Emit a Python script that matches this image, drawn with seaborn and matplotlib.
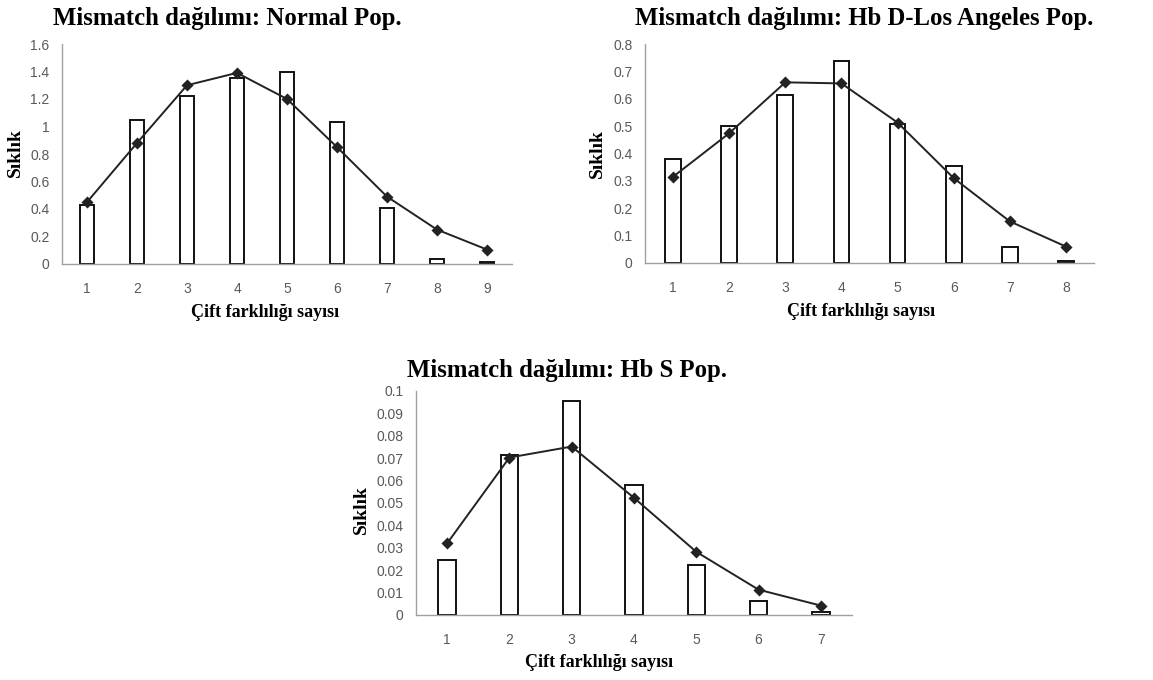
import matplotlib

matplotlib.use("Agg")

import matplotlib.pyplot as plt
import pandas as pd
import seaborn as sns
from matplotlib.ticker import FuncFormatter, MultipleLocator

# Normal population
normal_x = ["1", "2", "3", "4", "5", "6", "7", "8", "9"]
normal_obs = [0.43, 1.05, 1.22, 1.35, 1.40, 1.03, 0.41, 0.035, 0.012]
normal_exp = [0.45, 0.88, 1.30, 1.39, 1.20, 0.85, 0.49, 0.25, 0.105]

# Hb D-Los Angeles population
hbd_x = ["1", "2", "3", "4", "5", "6", "7", "8"]
hbd_obs = [0.38, 0.50, 0.614, 0.739, 0.506, 0.355, 0.057, 0.008]
hbd_exp = [0.315, 0.474, 0.66, 0.656, 0.513, 0.31, 0.152, 0.06]

# Hb S population
hbs_x = ["1", "2", "3", "4", "5", "6", "7"]
hbs_obs = [0.0244, 0.0714, 0.0955, 0.0581, 0.0224, 0.0062, 0.0012]
hbs_exp = [0.032, 0.0703, 0.0752, 0.0523, 0.0282, 0.0113, 0.0042]

W, H = 1153, 680
SERIF = ["Liberation Serif", "DejaVu Serif"]

sns.set_theme(style="white")
plt.rcParams["font.family"] = ["Liberation Sans", "DejaVu Sans"]
plt.rcParams["text.color"] = "black"

fig = plt.figure(figsize=(W / 100, H / 100), dpi=100)


def px_rect(left, right, top, bottom):
    return [left / W, 1 - bottom / H, (right - left) / W, (bottom - top) / H]


def panel(rect, cats, obs, exp, ymax, ystep, title, title_px, xlab_pos, ylab_pos):
    ax = fig.add_axes(rect)
    df = pd.DataFrame({"x": cats, "obs": obs, "exp": exp})
    sns.barplot(data=df, x="x", y="obs", width=0.28, color="white", saturation=1,
                edgecolor="#111111", linewidth=1.4, ax=ax)
    sns.pointplot(data=df, x="x", y="exp", color="#222222", markers="D",
                  markersize=4.8, linewidth=1.4, ax=ax)
    ax.set_ylim(0, ymax)
    ax.set_xlim(-0.5, len(cats) - 0.5)
    ax.yaxis.set_major_locator(MultipleLocator(ystep))
    ax.yaxis.set_major_formatter(FuncFormatter(lambda v, p: f"{round(v, 4):g}"))
    ax.tick_params(axis="both", length=0, labelsize=10, labelcolor="#595959")
    ax.tick_params(axis="y", pad=9)
    ax.tick_params(axis="x", pad=13)
    for s in ["top", "right"]:
        ax.spines[s].set_visible(False)
    for s in ["left", "bottom"]:
        ax.spines[s].set_color("#a0a0a0")
        ax.spines[s].set_linewidth(1.0)
    ax.set_xlabel("Çift farklılığı sayısı", fontfamily=SERIF, fontweight="bold",
                  fontsize=13, color="black", va="center")
    ax.xaxis.set_label_coords(*xlab_pos)
    ax.set_ylabel("Sıklık", fontfamily=SERIF, fontweight="bold", fontsize=14,
                  color="black", va="center")
    ax.yaxis.set_label_coords(*ylab_pos)
    fig.text(title_px[0] / W, 1 - title_px[1] / H, title, fontfamily=SERIF,
             fontweight="bold", fontsize=17.8, color="black", ha="left", va="center")
    return ax


panel(px_rect(62, 512, 44, 264), normal_x, normal_obs, normal_exp, 1.6, 0.2,
      "Mismatch dağılımı: Normal Pop.", (53, 19), (0.451, -0.22), (-0.104, 0.505))
panel(px_rect(645, 1094, 44, 263), hbd_x, hbd_obs, hbd_exp, 0.8, 0.1,
      "Mismatch dağılımı: Hb D-Los Angeles Pop.", (635, 19), (0.481, -0.22), (-0.107, 0.5))
panel(px_rect(416, 852, 391, 615), hbs_x, hbs_obs, hbs_exp, 0.1, 0.01,
      "Mismatch dağılımı: Hb S Pop.", (407, 371), (0.42, -0.21), (-0.124, 0.47))

fig.savefig("out.png", dpi=100)
